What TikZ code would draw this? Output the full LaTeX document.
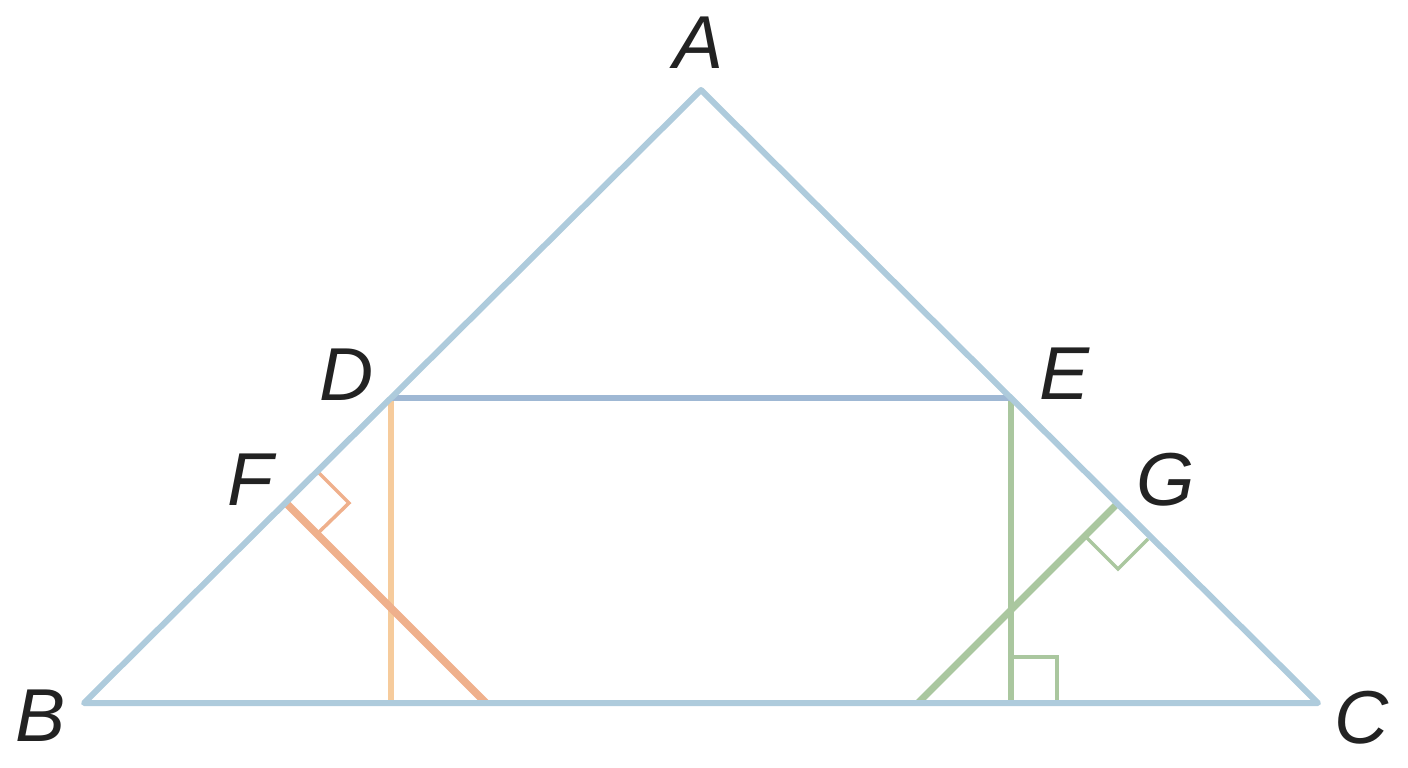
\documentclass[tikz,border=0pt]{standalone}
\usepackage{fontspec}
\setmainfont{Liberation Sans}
\usetikzlibrary{calc}
\definecolor{triblue}{HTML}{AECBDC}
\definecolor{deblue}{HTML}{9FB8D4}
\definecolor{orvert}{HTML}{F6CB9C}
\definecolor{ordiag}{HTML}{EFB08C}
\definecolor{grn}{HTML}{AAC79F}
\definecolor{ink}{HTML}{222222}
\tikzset{
  lab/.style={inner sep=0pt, text=ink, font=\fontsize{75}{75}\selectfont\itshape},
  tri/.style={draw=triblue, line width=6pt, line join=round, line cap=round},
  mid/.style={draw=deblue, line width=6pt},
  orv/.style={draw=orvert, line width=6pt},
  ord/.style={draw=ordiag, line width=7.5pt},
  grd/.style={draw=grn, line width=7pt},
  grv/.style={draw=grn, line width=6pt},
  orsq/.style={draw=ordiag, line width=3.5pt},
  grsq/.style={draw=grn, line width=3.5pt},
}
\begin{document}
\begin{tikzpicture}[x=1pt,y=-1pt]
\useasboundingbox (0,0) rectangle (1408,768);
\coordinate (A) at (701,90);
\coordinate (B) at (84,703);
\coordinate (C) at (1318,703);
\coordinate (D) at (391,398);
\coordinate (E) at (1011,398);
\coordinate (F) at (286,503);
\coordinate (G) at (1117,504);
\coordinate (Dfoot) at (391,703);
\coordinate (Efoot) at (1011,703);
\coordinate (Ffoot) at (486,703);
\coordinate (Gfoot) at (918,703);
% coloured segments
\draw[orv] (D) -- (Dfoot);
\draw[ord] (F) -- (Ffoot);
\draw[grv] (E) -- (Efoot);
\draw[grd] (G) -- (Gfoot);
% right-angle marks
\draw[orsq] ($(F)+(32,-31)$) -- ($(F)+(63,0)$) -- ($(F)+(31,31)$);
\draw[grsq] ($(G)+(-30,34)$) -- ($(G)+(1,65)$) -- ($(G)+(31,35)$);
\draw[grsq] ($(Efoot)+(0,-46)$) -- ($(Efoot)+(46,-46)$) -- ($(Efoot)+(46,0)$);
% blue lines
\draw[mid] (D) -- (E);
\draw[tri] (A) -- (B) -- (C) -- cycle;
% labels
\node[lab] (lA) at (699,43) {A};
\node[lab] (lB) at (41,716) {B};
\node[lab] (lC) at (1362,718) {C};
\node[lab] (lD) at (347,375) {D};
\node[lab] (lE) at (1064,374) {E};
\node[lab] (lF) at (250,480) {F};
\node[lab] (lG) at (1166,480) {G};
\end{tikzpicture}
\end{document}
